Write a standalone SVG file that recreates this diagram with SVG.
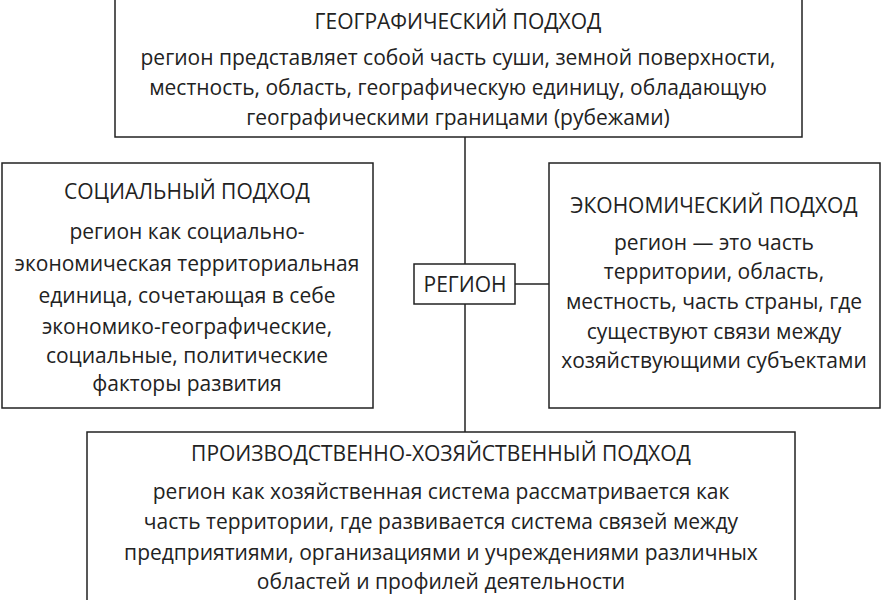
<svg xmlns="http://www.w3.org/2000/svg" width="882" height="600" viewBox="0 0 882 600">
<style>
rect{fill:#fff;stroke:#222;stroke-width:1.5}
text{font-family:"Open Sans","Liberation Sans",sans-serif;font-size:21px;fill:#222;text-anchor:middle}
line{stroke:#222;stroke-width:1.5}
</style>
<rect x="0" y="0" width="882" height="600" style="stroke:none" fill="#fff"/>
<g id="connectors">
<line x1="465" y1="137" x2="465" y2="264"/>
<line x1="465" y1="304" x2="465" y2="432"/>
<line x1="515" y1="284" x2="549" y2="284"/>
</g>
<g id="geo">
<rect x="115" y="-2" width="687" height="139"/>
<text x="458" y="29">ГЕОГРАФИЧЕСКИЙ ПОДХОД</text>
<text x="458" y="65">регион представляет собой часть суши, земной поверхности,</text>
<text x="458" y="95">местность, область, географическую единицу, обладающую</text>
<text x="458" y="125">географическими границами (рубежами)</text>
</g>
<g id="social">
<rect x="2" y="163" width="371" height="245"/>
<text x="187" y="199">СОЦИАЛЬНЫЙ ПОДХОД</text>
<text x="187" y="239">регион как социально-</text>
<text x="187" y="271">экономическая территориальная</text>
<text x="187" y="303">единица, сочетающая в себе</text>
<text x="187" y="334">экономико-географические,</text>
<text x="187" y="363">социальные, политические</text>
<text x="187" y="391">факторы развития</text>
</g>
<g id="region">
<rect x="414" y="264" width="101" height="40"/>
<text x="465" y="292">РЕГИОН</text>
</g>
<g id="econ">
<rect x="549" y="163" width="331" height="245"/>
<text x="714" y="213">ЭКОНОМИЧЕСКИЙ ПОДХОД</text>
<text x="714" y="250">регион — это часть</text>
<text x="714" y="279">территории, область,</text>
<text x="714" y="309">местность, часть страны, где</text>
<text x="714" y="339">существуют связи между</text>
<text x="714" y="368">хозяйствующими субъектами</text>
</g>
<g id="prod">
<rect x="87" y="432" width="708" height="170"/>
<text x="441" y="461">ПРОИЗВОДСТВЕННО-ХОЗЯЙСТВЕННЫЙ ПОДХОД</text>
<text x="441" y="499">регион как хозяйственная система рассматривается как</text>
<text x="441" y="529">часть территории, где развивается система связей между</text>
<text x="441" y="560">предприятиями, организациями и учреждениями различных</text>
<text x="441" y="589">областей и профилей деятельности</text>
</g>
</svg>
